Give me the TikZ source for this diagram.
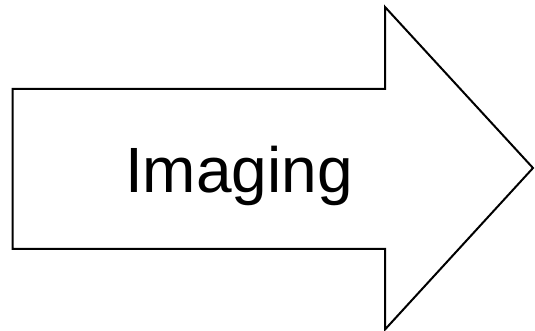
\documentclass[tikz,border=0pt]{standalone}
\usepackage{fontspec}
\setmainfont{Liberation Sans}
\begin{document}
\begin{tikzpicture}[x=1pt,y=1pt,
  arrowshape/.style={draw=black,line width=2pt,line join=miter,fill=white},
  label/.style={font=\fontsize{64}{70}\selectfont,anchor=base,inner sep=0pt}]
\useasboundingbox (0,0) rectangle (535,331);
\draw[arrowshape] (12.5,242) -- (385,242) -- (385,324) -- (533,163) -- (385,1.5) -- (385,82) -- (12.5,82) -- cycle;
\node[label] (t) at (239,138) {Imaging};
\end{tikzpicture}
\end{document}
